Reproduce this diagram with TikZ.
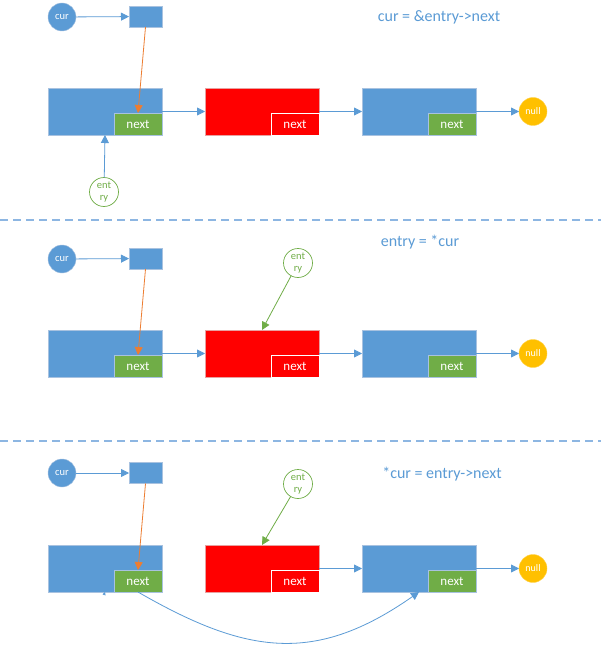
\documentclass[tikz,border=0pt]{standalone}
\usepackage{fontspec}
\setmainfont{Carlito}
\usetikzlibrary{arrows.meta}
\definecolor{nodeblue}{HTML}{5B9BD5}
\definecolor{boxedge}{HTML}{A8C2E0}
\definecolor{nodered}{HTML}{FF0000}
\definecolor{rededge}{HTML}{E8A0A0}
\definecolor{nextgreen}{HTML}{70AD47}
\definecolor{orangec}{HTML}{ED7D31}
\definecolor{nullyellow}{HTML}{FFC000}
\definecolor{dashc}{HTML}{8DB6E2}
\tikzset{
  blk/.style={draw=boxedge, line width=0.6pt, fill=nodeblue, minimum width=114pt, minimum height=47pt, inner sep=0pt, outer sep=0pt},
  redblk/.style={blk, fill=nodered, draw=rededge},
  nxt/.style={draw=boxedge, line width=0.6pt, fill=nextgreen, minimum width=48pt, minimum height=22pt, text=white, font=\fontsize{13}{14}\selectfont, inner sep=0pt, outer sep=0pt, anchor=south east},
  rnxt/.style={nxt, fill=nodered, draw=white},
  ptrbox/.style={blk, minimum width=33pt, minimum height=21pt},
  curc/.style={circle, fill=nodeblue, draw=boxedge, line width=0.4pt, minimum size=28pt, inner sep=0pt, outer sep=0pt, text=white, font=\fontsize{10.5}{11}\selectfont},
  nullc/.style={circle, fill=nullyellow, draw=nullyellow!70!white, line width=0.4pt, minimum size=28pt, inner sep=0pt, outer sep=0pt, text=white, font=\fontsize{10}{11}\selectfont},
  entc/.style={circle, draw=nextgreen, fill=white, line width=0.7pt, minimum size=29pt, inner sep=0pt, outer sep=0pt, text=nextgreen, align=center, font=\fontsize{10.5}{12}\selectfont},
  arr/.style={draw=nodeblue, line width=0.8pt, -{Triangle[length=8pt,width=8pt]}},
  oarr/.style={draw=orangec, line width=0.8pt, -{Triangle[length=8pt,width=8pt]}},
  garr/.style={draw=nextgreen, line width=0.8pt, -{Triangle[length=8pt,width=8pt]}},
  ttl/.style={text=nodeblue, font=\fontsize{16}{17}\selectfont, inner sep=0pt},
  sep/.style={draw=dashc, line width=1.2pt, dash pattern=on 8pt off 5pt}
}
\begin{document}
\begin{tikzpicture}[x=1pt,y=-1pt]
\useasboundingbox (0,0) rectangle (601,668);
\fill[white] (0,0) rectangle (601,668);

% ---------- panel 1 ----------
\node[curc] (curA) at (62,17) {cur};
\node[ptrbox] (pA) at (145.5,16.5) {};
\node[blk] (aA) at (105,111.5) {};
\node[nxt] (naA) at (aA.south east) {next};
\node[redblk] (bA) at (262,111.5) {};
\node[rnxt] (nbA) at (bA.south east) {next};
\node[blk] (cA) at (419,111.5) {};
\node[nxt] (ncA) at (cA.south east) {next};
\node[nullc] (nullA) at (533,111.5) {null};
\node[entc] (entA) at (104,192) {ent\\ry};
\node[ttl] (tA) at (439,17) {cur = \&entry->next};
\draw[arr] (curA) -- (pA);
\draw[oarr] (pA.south) -- (naA.north);
\draw[arr] (aA) -- (bA);
\draw[arr] (bA) -- (cA);
\draw[arr] (cA) -- (nullA);
\draw[arr] (entA) -- (aA.south);

\coordinate (sepAl) at (0,220);
\coordinate (sepAr) at (601,220);
\draw[sep] (sepAl) -- (sepAr);

% ---------- panel 2 ----------
\node[curc] (curB) at (62,259) {cur};
\node[ptrbox] (pB) at (145.5,258.5) {};
\node[blk] (aB) at (105,353.5) {};
\node[nxt] (naB) at (aB.south east) {next};
\node[redblk] (bB) at (262,353.5) {};
\node[rnxt] (nbB) at (bB.south east) {next};
\node[blk] (cB) at (419,353.5) {};
\node[nxt] (ncB) at (cB.south east) {next};
\node[nullc] (nullB) at (533,353.5) {null};
\node[entc] (entB) at (298,263) {ent\\ry};
\node[ttl] (tB) at (420,242) {entry = *cur};
\draw[arr] (curB) -- (pB);
\draw[oarr] (pB.south) -- (naB.north);
\draw[arr] (aB) -- (bB);
\draw[arr] (bB) -- (cB);
\draw[arr] (cB) -- (nullB);
\draw[garr] (entB) -- (bB.north);

\coordinate (sepBl) at (0,441);
\coordinate (sepBr) at (601,441);
\draw[sep] (sepBl) -- (sepBr);

% ---------- panel 3 ----------
\node[curc] (curC) at (62,473) {cur};
\node[ptrbox] (pC) at (145.5,473) {};
\node[blk] (aC) at (105,568.5) {};
\node[nxt] (naC) at (aC.south east) {next};
\node[redblk] (bC) at (262,568.5) {};
\node[rnxt] (nbC) at (bC.south east) {next};
\node[blk] (cC) at (419,568.5) {};
\node[nxt] (ncC) at (cC.south east) {next};
\node[nullc] (nullC) at (533,568.5) {null};
\node[entc] (entC) at (298,484) {ent\\ry};
\node[ttl] (tC) at (442,474) {*cur = entry->next};
\draw[arr] (curC) -- (pC);
\draw[oarr] (pC.south) -- (naC.north);
\draw[arr] (bC) -- (cC);
\draw[arr] (cC) -- (nullC);
\draw[garr] (entC) -- (bC.north);
\draw[arr] (naC.south) to[out=-30,in=-145,looseness=1.15] (cC.south);
\coordinate (stubC) at (104,595);
\draw[draw=nodeblue, line width=0.5pt, -{Triangle[length=3pt,width=3pt]}] (stubC) -- (aC.south);
\end{tikzpicture}
\end{document}
